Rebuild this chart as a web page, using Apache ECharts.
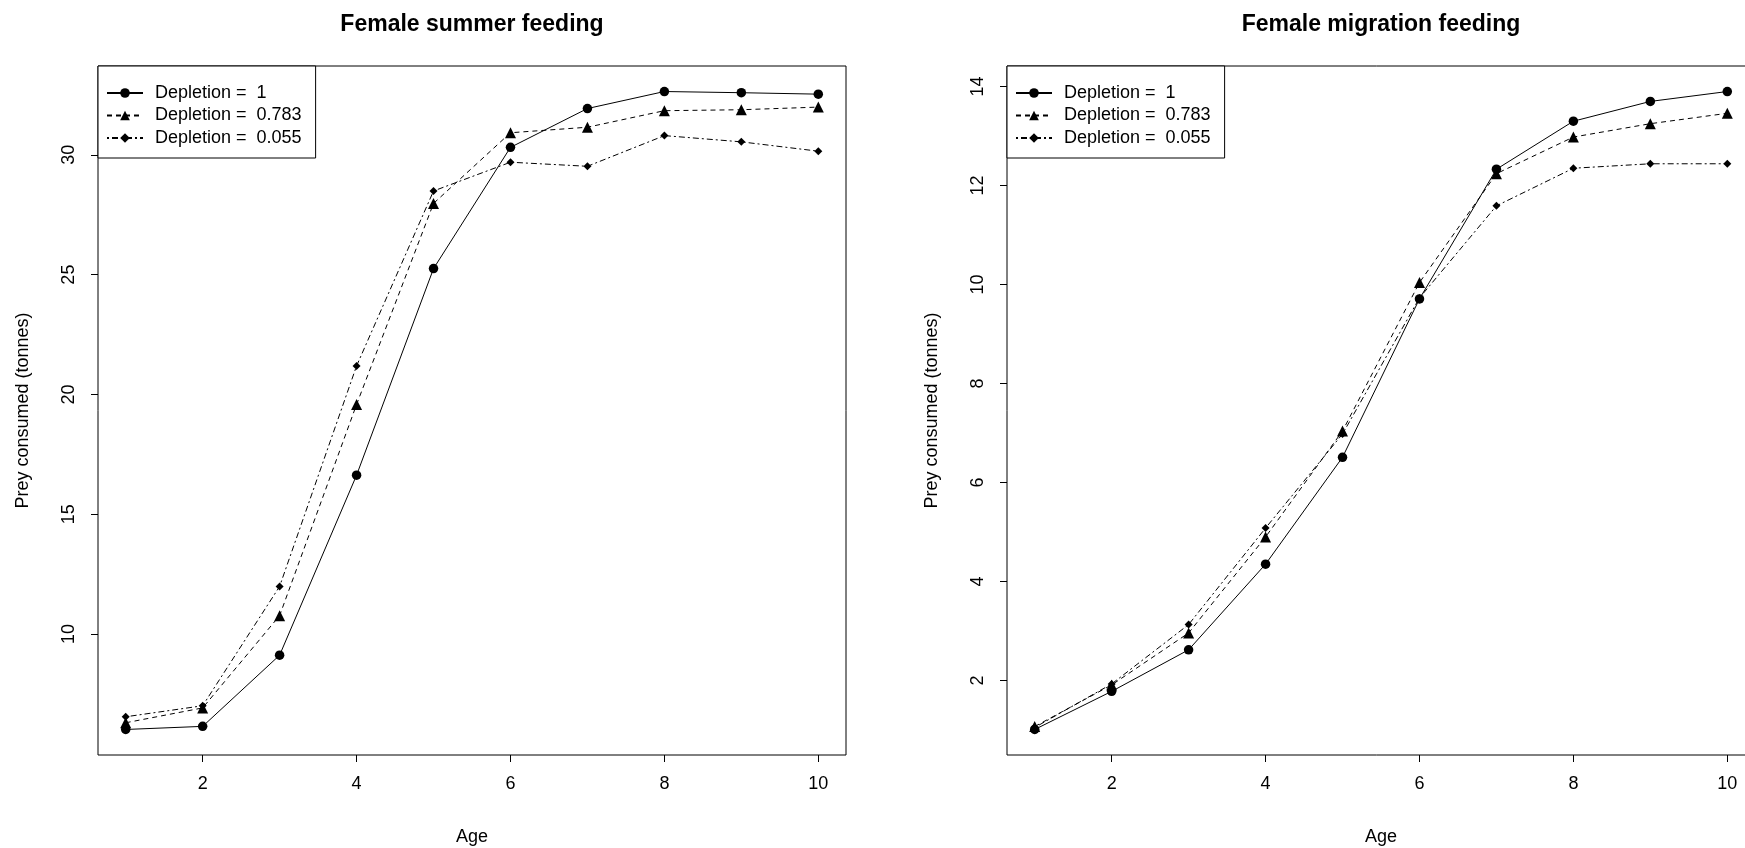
<!DOCTYPE html>
<html>
<head>
<meta charset="utf-8">
<script src="https://cdn.jsdelivr.net/npm/echarts@6/dist/echarts.min.js"></script>
<style>
html,body{margin:0;padding:0;background:#fff;overflow:hidden;}
#chart{width:1745px;height:848px;}
</style>
</head>
<body>
<div id="chart"></div>
<script>
const ages = [1, 2, 3, 4, 5, 6, 7, 8, 9, 10];
const seriesNames = ['Depletion =  1', 'Depletion =  0.783', 'Depletion =  0.055'];
const summerD1 = [6.02, 6.15, 9.12, 16.63, 25.25, 30.31, 31.93, 32.64, 32.59, 32.53];
const summerD0783 = [6.30, 6.92, 10.77, 19.58, 27.97, 30.92, 31.15, 31.84, 31.88, 31.99];
const summerD0055 = [6.55, 7.01, 11.99, 21.19, 28.49, 29.69, 29.52, 30.80, 30.54, 30.15];
const migrD1 = [1.01, 1.78, 2.62, 4.35, 6.51, 9.71, 12.33, 13.30, 13.70, 13.90];
const migrD0783 = [1.07, 1.91, 2.96, 4.90, 7.04, 10.04, 12.24, 12.98, 13.25, 13.46];
const migrD0055 = [1.05, 1.93, 3.13, 5.08, 6.98, 9.73, 11.59, 12.35, 12.44, 12.44];
const xTicks = [2, 4, 6, 8, 10];
const summerYTicks = [10, 15, 20, 25, 30];
const migrYTicks = [2, 4, 6, 8, 10, 12, 14];
const titles = ['Female summer feeding', 'Female migration feeding'];

const FONT = '"Liberation Sans", Arial, Helvetica, sans-serif';

function rRange(arrs) {
  const all = [].concat(...arrs);
  const mn = Math.min(...all), mx = Math.max(...all);
  const pad = 0.04 * (mx - mn);
  return [mn - pad, mx + pad];
}
const xr = rRange([ages]);
const ySummer = rRange([summerD1, summerD0783, summerD0055]);
const yMigr = rRange([migrD1, migrD0783, migrD0055]);

const styles = [
  {symbol: 'circle', symbolSize: 9.5, dash: 'solid'},
  {symbol: 'triangle', symbolSize: 11, dash: [5, 4]},
  {symbol: 'diamond', symbolSize: 8, dash: [2, 3, 6, 3]}
];

function mkSeries(vals, i, gi) {
  return {
    type: 'line',
    name: seriesNames[i],
    xAxisIndex: gi, yAxisIndex: gi,
    data: ages.map((a, k) => [a, vals[k]]),
    symbol: styles[i].symbol,
    symbolSize: styles[i].symbolSize,
    showAllSymbol: true,
    clip: false,
    itemStyle: {color: '#000'},
    lineStyle: {color: '#000', width: 1, type: styles[i].dash},
    emphasis: {disabled: true},
    silent: true
  };
}

const grids = [
  {left: 98, top: 66, width: 748, height: 689},
  {left: 1007, top: 66, width: 748, height: 689}
];

function xAxis(gi) {
  return {
    gridIndex: gi, type: 'value', min: xr[0], max: xr[1],
    name: 'Age', nameLocation: 'middle', nameGap: 73,
    nameTextStyle: {fontFamily: FONT, fontSize: 18, color: '#000'},
    axisLine: {show: false},
    axisTick: {show: true, customValues: xTicks, length: 7, lineStyle: {color: '#000', width: 1}},
    axisLabel: {customValues: xTicks, fontFamily: FONT, fontSize: 18, color: '#000', margin: 20, hideOverlap: false},
    splitLine: {show: false}
  };
}
function yAxis(gi, rng, ticks) {
  return {
    gridIndex: gi, type: 'value', min: rng[0], max: rng[1],
    name: 'Prey consumed (tonnes)', nameLocation: 'middle', nameGap: 66,
    nameTextStyle: {fontFamily: FONT, fontSize: 18, color: '#000'},
    axisLine: {show: false},
    axisTick: {show: true, customValues: ticks, length: 7, lineStyle: {color: '#000', width: 1}},
    axisLabel: {customValues: ticks, rotate: 90, fontFamily: FONT, fontSize: 18, color: '#000', margin: 20},
    splitLine: {show: false}
  };
}

function legend(left) {
  return {
    left: left, top: 66, orient: 'vertical',
    data: seriesNames,
    borderColor: '#000', borderWidth: 1, borderRadius: 0,
    backgroundColor: '#fff',
    padding: [18, 14, 11, 8],
    itemWidth: 36, itemHeight: 12, itemGap: 4.5,
    selectedMode: false,
    textStyle: {fontFamily: FONT, fontSize: 18, color: '#000', lineHeight: 18, padding: [0, 0, 0, 7]}
  };
}

const option = {
  animation: false,
  backgroundColor: '#fff',
  title: [
    {text: titles[0], left: 472, top: 13, textAlign: 'center', padding: 0,
     textStyle: {fontFamily: FONT, fontSize: 23, fontWeight: 'bold', color: '#000'}},
    {text: titles[1], left: 1381, top: 13, textAlign: 'center', padding: 0,
     textStyle: {fontFamily: FONT, fontSize: 23, fontWeight: 'bold', color: '#000'}}
  ],
  legend: [legend(98), legend(1007)],
  grid: grids.map(g => Object.assign({show: true, borderColor: '#000', borderWidth: 1, backgroundColor: 'transparent', containLabel: false, outerBoundsMode: 'none'}, g)),
  xAxis: [xAxis(0), xAxis(1)],
  yAxis: [yAxis(0, ySummer, summerYTicks), yAxis(1, yMigr, migrYTicks)],
  series: [
    mkSeries(summerD1, 0, 0), mkSeries(summerD0783, 1, 0), mkSeries(summerD0055, 2, 0),
    mkSeries(migrD1, 0, 1), mkSeries(migrD0783, 1, 1), mkSeries(migrD0055, 2, 1)
  ]
};

const chart = echarts.init(document.getElementById('chart'), null, {renderer: 'canvas'});
chart.setOption(option);
</script>
</body>
</html>
